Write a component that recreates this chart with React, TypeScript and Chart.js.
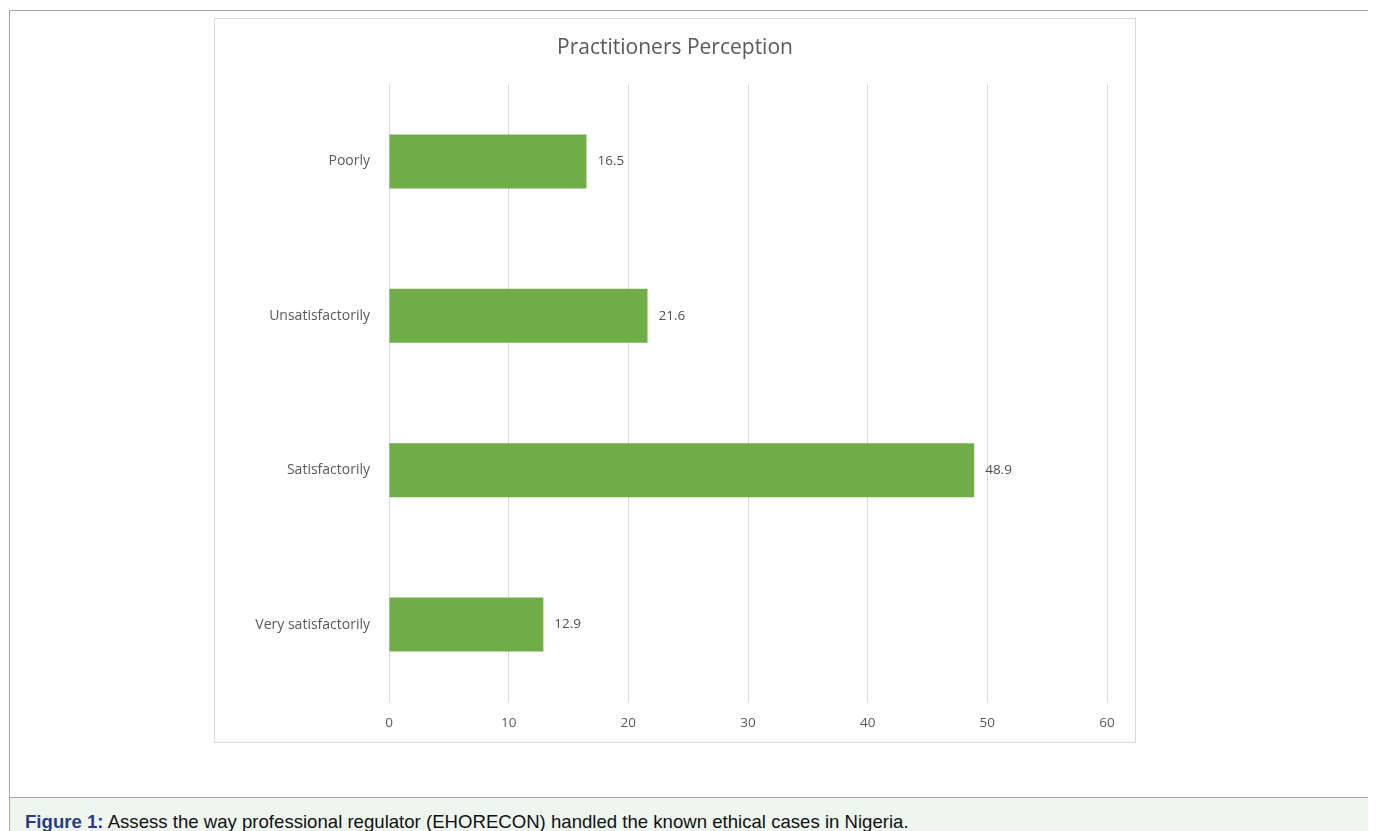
import React, { useEffect, useRef } from "react";
import { Chart, registerables } from "chart.js";

Chart.register(...registerables);

const categories = ["Poorly", "Unsatisfactorily", "Satisfactorily", "Very satisfactorily"];
const values = [16.5, 21.6, 48.9, 12.9];
const xTicks = [0, 10, 20, 30, 40, 50, 60];
const titleText = "Practitioners Perception";

const FONT = "'Open Sans', 'Liberation Sans', sans-serif";

const valueLabels = {
  id: "valueLabels",
  afterDatasetsDraw(chart: any) {
    const ctx = chart.ctx;
    const meta = chart.getDatasetMeta(0);
    ctx.save();
    ctx.font = `13.5px ${FONT}`;
    ctx.fillStyle = "#505050";
    ctx.textAlign = "left";
    ctx.textBaseline = "middle";
    meta.data.forEach((bar: any, i: number) => {
      ctx.fillText(String(values[i]), bar.x + 11, bar.y);
    });
    ctx.restore();
  },
};

export default function App() {
  const ref = useRef<HTMLCanvasElement>(null);
  useEffect(() => {
    if (!ref.current) return;
    const chart = new Chart(ref.current, {
      type: "bar",
      data: {
        labels: categories,
        datasets: [
          {
            data: values,
            backgroundColor: "#70ad47",
            barPercentage: 0.35,
            categoryPercentage: 1,
          },
        ],
      },
      options: {
        indexAxis: "y",
        responsive: false,
        animation: false,
        layout: { padding: { left: 0, right: 0, top: 0, bottom: -2 } },
        plugins: {
          legend: { display: false },
          tooltip: { enabled: false },
          title: {
            display: true,
            text: titleText,
            color: "#595959",
            font: { family: FONT, size: 21, weight: "normal" },
            padding: { top: 16, bottom: 24 },
          },
        },
        scales: {
          x: {
            min: 0,
            max: 60,
            afterBuildTicks: (scale: any) => {
              scale.ticks = xTicks.map((v) => ({ value: v }));
            },
            afterFit: (scale: any) => {
              scale.paddingRight = 28;
            },
            grid: { color: "#d9d9d9", drawTicks: false },
            border: { display: false },
            ticks: {
              color: "#595959",
              font: { family: FONT, size: 13.5 },
              padding: 13,
            },
          },
          y: {
            grid: { display: false, drawTicks: false },
            border: { display: false },
            afterFit: (scale: any) => {
              scale.width = 174;
            },
            ticks: {
              color: "#595959",
              font: { family: FONT, size: 14 },
              padding: 19,
            },
          },
        },
      },
      plugins: [valueLabels],
    });
    return () => chart.destroy();
  }, []);

  return (
    <div
      style={{
        margin: "2px 0 0 1px",
        width: 1360,
        border: "1px solid #a6a6a6",
        background: "#fff",
      }}
    >
      <div style={{ padding: "7px 0 54px 204px" }}>
        <div
          style={{
            boxSizing: "border-box",
            width: 922,
            height: 725,
            border: "1px solid #d9d9d9",
          }}
        >
          <canvas ref={ref} width={920} height={723} style={{ display: "block" }} />
        </div>
      </div>
      <div
        style={{
          borderTop: "1px solid #a6a6a6",
          background: "#eef6ef",
          padding: "13px 15px 20px 15px",
          fontFamily: "'Liberation Sans', Arial, sans-serif",
          fontSize: 18.6,
          lineHeight: "22px",
          color: "#111",
        }}
      >
        <span style={{ color: "#2b3c80", fontWeight: "bold" }}>Figure 1:</span> Assess the way
        professional regulator (EHORECON) handled the known ethical cases in Nigeria.
      </div>
    </div>
  );
}
